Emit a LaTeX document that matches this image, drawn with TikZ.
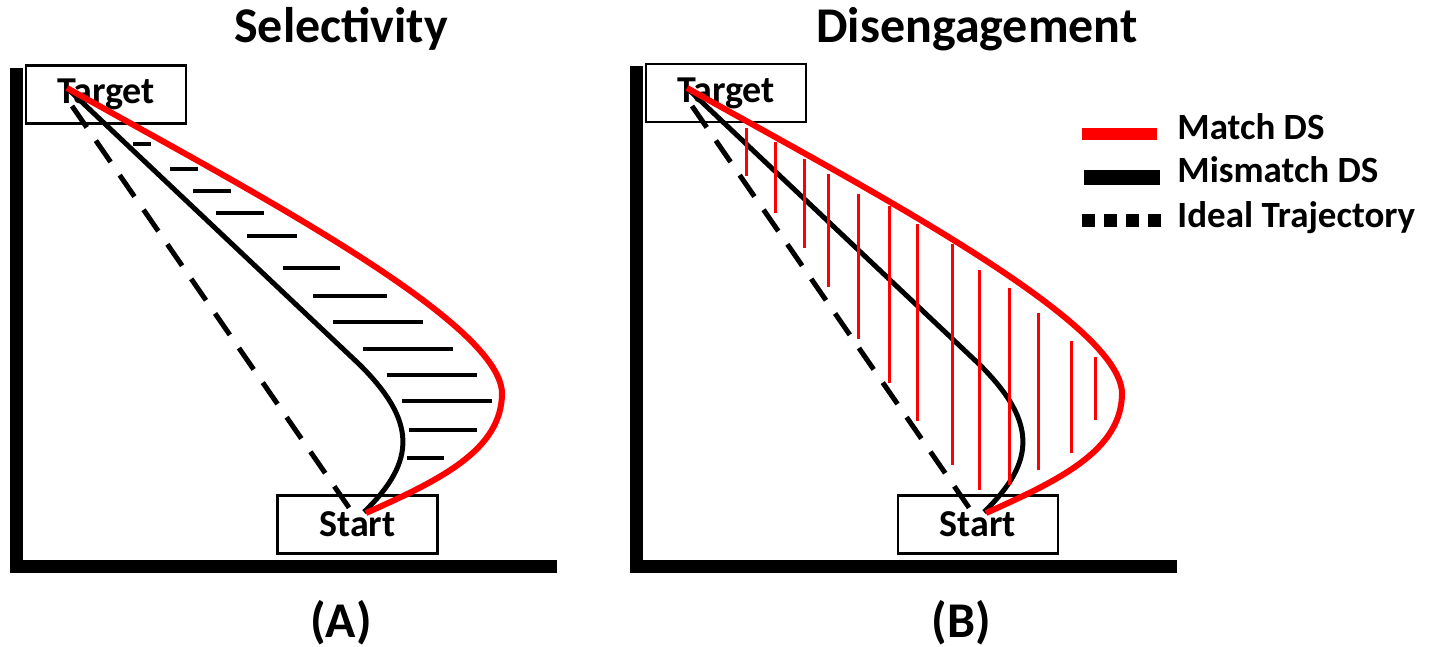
\documentclass[tikz,border=0pt]{standalone}
\usepackage{fontspec}
\setmainfont{Carlito}
\usetikzlibrary{calc}
\definecolor{matchred}{RGB}{255,0,0}

\begin{document}
\begin{tikzpicture}[x=0.5pt,y=-0.5pt,
  box/.style={draw,line width=1.2pt,minimum width=80pt,minimum height=29pt,inner sep=0pt,font=\fontsize{19}{20}\selectfont\bfseries},
  axis/.style={line width=6.5pt},
  matchline/.style={matchred,line width=3pt},
  mismatchline/.style={black,line width=2.5pt},
  idealline/.style={black,line width=2.5pt,dash pattern=on 13pt off 8pt},
  hatchA/.style={black,line width=2pt},
  hatchB/.style={matchred,line width=1.5pt},
  title/.style={anchor=base,font=\fontsize{25}{28}\selectfont\bfseries},
  legtext/.style={anchor=base west,inner sep=0pt,font=\fontsize{18.5}{20}\selectfont\bfseries}]
\useasboundingbox (0,0) rectangle (1434,647);

% titles and panel labels
\node[title] (selA) at (341,43) {Selectivity};
\node[title] (disB) at (977,43) {Disengagement};
\node[title] (labA) at (341,637) {(A)};
\node[title] (labB) at (961,637) {(B)};

% panel A
\draw[axis] (16,68) -- (16,566) -- (557,566);
\node[box] (targetA) at (106,94.5) {Target};
\node[box] (startA) at (357.5,524.5) {Start};
\coordinate (A-top) at (67,88);
\coordinate (A-end) at (364,512);
\draw[idealline] ($(A-top)+(5,18)$) -- ($(A-end)+(-12,0)$);
\draw[mismatchline] (A-top) -- (360,365) .. controls (415,420) and (418,460) .. (A-end);
\draw[matchline] (A-top) .. controls (240,185) and (500,320) .. (502,393) .. controls (502,450) and (440,480) .. ($(A-end)+(2,1)$);
\foreach \y/\xa/\xb in {144/133/151, 169/170/198, 191/193/231, 213/216/264, 236/247/297, 268/283/340, 296/313/387, 322/333/423, 349/363/453, 375/387/477, 401/402/492, 430/409/477, 458/407/444}
  \draw[hatchA] (\xa,\y) -- (\xb,\y);

% panel B
\begin{scope}[xshift=310pt]
\draw[axis] (16,66) -- (16,566) -- (557,566);
\node[box] (targetB) at (106,93) {Target};
\node[box] (startB) at (358,524.5) {Start};
\coordinate (B-top) at (67,88);
\coordinate (B-end) at (364,512);
\draw[idealline] ($(B-top)+(5,18)$) -- ($(B-end)+(-12,0)$);
\draw[mismatchline] (B-top) -- (360,365) .. controls (415,420) and (418,460) .. (B-end);
\draw[matchline] (B-top) .. controls (240,185) and (500,320) .. (502,393) .. controls (502,450) and (440,480) .. ($(B-end)+(2,1)$);
\end{scope}
\foreach \x/\ya/\yb in {746/128/176, 775/142/213, 804/159/248, 828/174/287, 858/194/339, 889/206/383, 917/224/421, 952/244/465, 979/270/490, 1009/288/485, 1038/313/470, 1071/341/453, 1095/357/420}
  \draw[hatchB] (\x,\ya) -- (\x,\yb);

% legend
\node[legtext] (lgmatch) at (1177,140) {Match DS};
\node[legtext] (lgmismatch) at (1177,182) {Mismatch DS};
\node[legtext] (lgideal) at (1177,227) {Ideal Trajectory};
\draw[matchred,line width=6pt] ($(lgmatch.base west)+(-95,-6)$) -- ++(75,0);
\draw[line width=7.5pt] ($(lgmismatch.base west)+(-93,-5)$) -- ++(76,0);
\draw[line width=6.5pt,dash pattern=on 6.5pt off 4.5pt] ($(lgideal.base west)+(-95,-7)$) -- ++(81,0);
\end{tikzpicture}
\end{document}
